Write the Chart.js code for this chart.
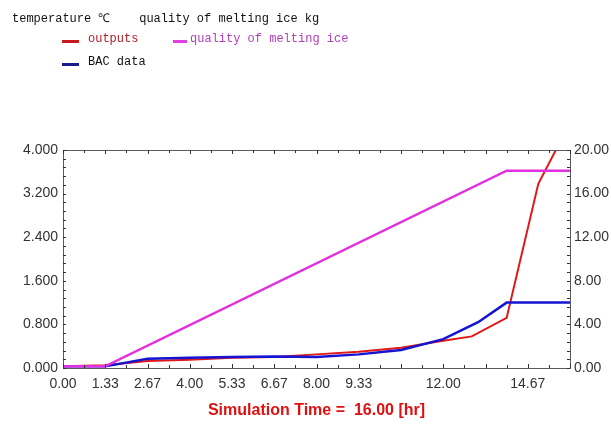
<!DOCTYPE html>
<html>
<head>
<meta charset="utf-8">
<script src="https://cdn.jsdelivr.net/npm/chart.js@4.4.1/dist/chart.umd.min.js"></script>
<style>
  body { margin: 0; background: #fff; }
  #wrap { position: relative; width: 611px; height: 430px; }
  canvas { position: absolute; left: 0; top: 0; }
  .txt { position: absolute; font-family: 'Liberation Mono', 'DejaVu Sans Mono', monospace; font-size: 12px; color: #111; white-space: pre; }
  .key { position: absolute; height: 3px; }
</style>
</head>
<body>
<div id="wrap">
  <canvas id="chart" width="611" height="430"></canvas>
  <div class="txt" style="left:12px; top:9px;">temperature ℃    quality of melting ice kg</div>
  <div class="key" style="left:62px; top:40px; width:17px; background:#c81a1a;"></div>
  <div class="txt" style="left:88px; top:32px; color:#b0202a;">outputs</div>
  <div class="key" style="left:173px; top:40px; width:14px; background:#e040e0;"></div>
  <div class="txt" style="left:190px; top:32px; color:#b040b8;">quality of melting ice</div>
  <div class="key" style="left:62px; top:63px; width:17px; background:#1a1a8a;"></div>
  <div class="txt" style="left:88px; top:55px;">BAC data</div>
</div>
<script>
// time (hr) and values
const outputsTime = [0, 1.33, 2.67, 4.0, 5.33, 6.67, 8.0, 9.33, 10.67, 12.0, 12.9, 14.0, 15.0, 16.0];
const outputsTemp = [0.03, 0.05, 0.13, 0.15, 0.19, 0.2, 0.25, 0.3, 0.37, 0.5, 0.58, 0.92, 3.38, 4.5];

const bacTime = [0, 1.33, 2.67, 4.0, 5.33, 6.67, 8.0, 9.33, 10.67, 12.0, 13.1, 14.0, 16.0];
const bacTemp = [0.03, 0.03, 0.17, 0.19, 0.2, 0.21, 0.2, 0.25, 0.33, 0.53, 0.84, 1.2, 1.2];

const iceTime = [0, 1.33, 14.0, 16.0];
const iceMass = [0.15, 0.15, 18.1, 18.1];

const hiddenXLabels = ['10.67', '13.33', '16.00'];

const tickFont = { family: "'Liberation Sans', Arial, sans-serif", size: 14 };
const frameColor = '#5a5a5a';

function pts(xs, ys) {
  return xs.map((x, i) => ({ x, y: ys[i] }));
}

// frame + small inward tick marks, like the original plot
const framePlugin = {
  id: 'frame',
  afterDatasetsDraw(chart) {
    const { ctx, chartArea: a, scales } = chart;
    ctx.save();
    ctx.strokeStyle = frameColor;
    ctx.lineWidth = 1;
    ctx.strokeRect(a.left + 0.5, a.top + 0.5, a.right - a.left, a.bottom - a.top);
    ctx.strokeStyle = '#333';
    const xs = scales.x;
    for (let i = 0; i <= 24; i++) {
      const px = Math.round(xs.getPixelForValue(i * 16 / 24)) + 0.5;
      const len = i % 2 === 0 ? 4 : 3;
      ctx.beginPath();
      ctx.moveTo(px, a.bottom); ctx.lineTo(px, a.bottom - len);
      ctx.moveTo(px, a.top); ctx.lineTo(px, a.top + len);
      ctx.stroke();
    }
    const yl = scales.y;
    for (let i = 0; i <= 25; i++) {
      const py = Math.round(yl.getPixelForValue(i * 4 / 25)) + 0.5;
      ctx.beginPath();
      ctx.moveTo(a.left, py); ctx.lineTo(a.left + 3, py);
      ctx.moveTo(a.right, py); ctx.lineTo(a.right - 3, py);
      ctx.stroke();
    }
    ctx.restore();
  }
};

new Chart(document.getElementById('chart').getContext('2d'), {
  type: 'line',
  data: {
    datasets: [
      {
        label: 'quality of melting ice',
        data: pts(iceTime, iceMass),
        yAxisID: 'y2',
        borderColor: '#e030e0',
        borderWidth: 2.5,
        pointRadius: 0,
        tension: 0,
      },
      {
        label: 'BAC data',
        data: pts(bacTime, bacTemp),
        yAxisID: 'y',
        borderColor: '#1414d2',
        borderWidth: 2.5,
        pointRadius: 0,
        tension: 0,
      },
      {
        label: 'outputs',
        data: pts(outputsTime, outputsTemp),
        yAxisID: 'y',
        borderColor: '#e01818',
        borderWidth: 2,
        pointRadius: 0,
        tension: 0,
      },
    ],
  },
  options: {
    responsive: false,
    animation: false,
    layout: { padding: { top: 150, left: 0, right: 0, bottom: 0 } },
    plugins: { legend: { display: false }, tooltip: { enabled: false } },
    scales: {
      x: {
        type: 'linear',
        min: 0,
        max: 16,
        afterBuildTicks: (axis) => {
          axis.ticks = [];
          for (let i = 0; i <= 12; i++) axis.ticks.push({ value: i * 16 / 12 });
        },
        ticks: {
          autoSkip: false,
          maxRotation: 0,
          padding: 8,
          color: '#333',
          font: tickFont,
          callback: (v) => {
            const s = v.toFixed(2);
            return hiddenXLabels.includes(s) ? '' : s;
          },
        },
        grid: { display: false, drawTicks: false },
        border: { display: false },
        title: {
          display: true,
          text: 'Simulation Time =  16.00 [hr]',
          color: '#e01010',
          font: { family: "'Liberation Sans', Arial, sans-serif", size: 16, weight: 'bold' },
          padding: { top: 0, bottom: 10 },
        },
        afterFit: (axis) => { axis.height = 62; },
      },
      y: {
        position: 'left',
        min: 0,
        max: 4,
        afterBuildTicks: (axis) => {
          axis.ticks = [0, 0.8, 1.6, 2.4, 3.2, 4.0].map(v => ({ value: v }));
        },
        ticks: { color: '#333', font: tickFont, padding: 5, callback: (v) => v.toFixed(3) },
        grid: { display: false, drawTicks: false },
        border: { display: false },
        afterFit: (axis) => { axis.width = 63; },
      },
      y2: {
        position: 'right',
        min: 0,
        max: 20,
        afterBuildTicks: (axis) => {
          axis.ticks = [0, 4, 8, 12, 16, 20].map(v => ({ value: v }));
        },
        ticks: { color: '#333', font: tickFont, padding: 4, callback: (v) => v.toFixed(2) },
        grid: { display: false, drawTicks: false },
        border: { display: false },
        afterFit: (axis) => { axis.width = 41; },
      },
    },
  },
  plugins: [framePlugin],
});
</script>
</body>
</html>
